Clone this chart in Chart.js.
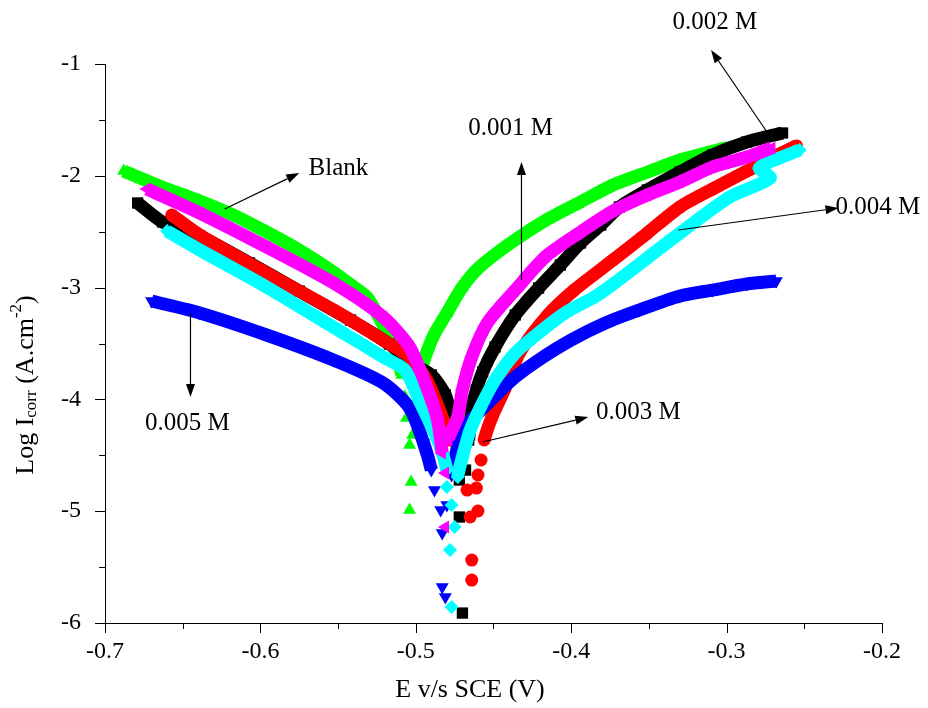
<!DOCTYPE html>
<html><head><meta charset="utf-8">
<script src="https://cdn.jsdelivr.net/npm/chart.js@4.4.0/dist/chart.umd.min.js"></script>
<style>html,body{margin:0;padding:0;background:#fff;}#wrap{width:928px;height:708px;}</style>
</head><body><div id="wrap"><canvas id="c" width="928" height="708"></canvas></div>
<script>
// ---- axis ticks ----
const xMajorTicks = [-0.7, -0.6, -0.5, -0.4, -0.3, -0.2];
const xTickLabels = ['-0.7', '-0.6', '-0.5', '-0.4', '-0.3', '-0.2'];
const xMinorTicks = [-0.65, -0.55, -0.45, -0.35, -0.25];
const yMajorTicks = [-6, -5, -4, -3, -2, -1];
const yTickLabels = ['-6', '-5', '-4', '-3', '-2', '-1'];
const yMinorTicks = [-5.5, -4.5, -3.5, -2.5, -1.5];

// ---- series (E in V vs SCE, log I) ----
const blankE = [-0.688,-0.665,-0.639,-0.616,-0.596,-0.575,-0.553,-0.539,-0.531,-0.521,-0.513,-0.509,-0.507,-0.506,-0.504,-0.503,-0.504,-0.502,-0.499,-0.496,-0.494,-0.489,-0.480,-0.470,-0.459,-0.439,-0.416,-0.394,-0.373,-0.349,-0.330,-0.301];
const blankLogI = [-1.957,-2.091,-2.225,-2.360,-2.503,-2.664,-2.861,-3.004,-3.093,-3.335,-3.558,-3.782,-3.979,-4.167,-4.408,-4.739,-4.989,-4.319,-3.916,-3.710,-3.621,-3.442,-3.227,-2.995,-2.816,-2.601,-2.395,-2.234,-2.082,-1.957,-1.859,-1.751];

const m001E = [-0.673,-0.639,-0.596,-0.553,-0.521,-0.504,-0.493,-0.486,-0.483,-0.481,-0.481,-0.479,-0.473,-0.470,-0.464,-0.454,-0.436,-0.416,-0.394,-0.373,-0.351,-0.330,-0.309,-0.287,-0.271];
const m001LogI = [-2.118,-2.333,-2.637,-2.959,-3.263,-3.531,-3.889,-4.184,-4.480,-4.659,-5.142,-4.363,-4.158,-3.916,-3.621,-3.317,-3.022,-2.717,-2.503,-2.315,-2.172,-2.056,-1.921,-1.832,-1.751];

const m002E = [-0.679,-0.663,-0.639,-0.607,-0.575,-0.542,-0.517,-0.501,-0.490,-0.481,-0.477,-0.473,-0.472,-0.472,-0.470,-0.468,-0.466,-0.464,-0.461,-0.457,-0.449,-0.436,-0.421,-0.407,-0.394,-0.381,-0.369,-0.351,-0.330,-0.309,-0.287,-0.264];
const m002LogI = [-2.243,-2.413,-2.539,-2.780,-3.031,-3.290,-3.505,-3.692,-3.782,-3.961,-4.184,-4.453,-4.721,-5.052,-5.911,-4.632,-4.363,-4.095,-3.916,-3.755,-3.531,-3.245,-3.004,-2.798,-2.601,-2.440,-2.279,-2.127,-1.966,-1.814,-1.698,-1.617];

const m003E = [-0.657,-0.639,-0.596,-0.553,-0.521,-0.504,-0.493,-0.484,-0.478,-0.472,-0.467,-0.465,-0.464,-0.464,-0.460,-0.461,-0.460,-0.458,-0.456,-0.451,-0.443,-0.433,-0.415,-0.398,-0.373,-0.351,-0.330,-0.309,-0.287,-0.266,-0.255];
const m003LogI = [-2.351,-2.530,-2.870,-3.200,-3.469,-3.621,-3.827,-4.122,-4.363,-4.614,-4.811,-5.052,-5.437,-5.616,-4.998,-4.793,-4.676,-4.542,-4.363,-4.158,-3.916,-3.576,-3.245,-3.022,-2.753,-2.512,-2.279,-2.118,-1.957,-1.805,-1.733];

const m004E = [-0.660,-0.639,-0.596,-0.553,-0.521,-0.507,-0.497,-0.486,-0.480,-0.480,-0.477,-0.475,-0.478,-0.477,-0.473,-0.470,-0.465,-0.457,-0.449,-0.436,-0.421,-0.404,-0.385,-0.373,-0.351,-0.330,-0.298,-0.272,-0.279,-0.266,-0.253];
const m004LogI = [-2.494,-2.664,-2.995,-3.353,-3.621,-3.737,-4.032,-4.363,-4.632,-4.784,-4.945,-5.142,-5.347,-5.857,-4.694,-4.515,-4.274,-4.032,-3.827,-3.585,-3.406,-3.227,-3.084,-2.968,-2.735,-2.512,-2.190,-2.020,-1.930,-1.841,-1.769];

const m005E = [-0.670,-0.639,-0.596,-0.553,-0.521,-0.504,-0.495,-0.490,-0.488,-0.484,-0.483,-0.483,-0.481,-0.480,-0.477,-0.473,-0.467,-0.456,-0.447,-0.436,-0.421,-0.400,-0.378,-0.356,-0.330,-0.309,-0.287,-0.268];
const m005LogI = [-3.120,-3.227,-3.424,-3.648,-3.854,-4.077,-4.390,-4.632,-4.811,-4.989,-5.195,-5.678,-5.768,-4.945,-4.676,-4.426,-4.229,-4.068,-3.943,-3.800,-3.648,-3.469,-3.317,-3.200,-3.075,-3.022,-2.968,-2.941];

// below this log I the markers are sparse (no continuous band)
const sparseBelow = { blank: -3.95, m001: -4.5, m002: -4.5, m003: -4.5, m004: -4.75, m005: -4.7 };

// ---- annotations (label text, label anchor, arrow tail -> head), data units ----
const notes = [
  { text: 'Blank',   lx: -0.569, ly: -1.930, align: 'left',   tail: [-0.623, -2.297], head: [-0.575, -1.975] },
  { text: '0.001 M', lx: -0.439, ly: -1.572, align: 'center', tail: [-0.432, -2.932], head: [-0.432, -1.877] },
  { text: '0.002 M', lx: -0.3075, ly: -0.624, align: 'center', tail: [-0.274, -1.608], head: [-0.310, -0.875] },
  { text: '0.003 M', lx: -0.384, ly: -4.113, align: 'left',   tail: [-0.457, -4.381], head: [-0.389, -4.158] },
  { text: '0.004 M', lx: -0.230, ly: -2.279, align: 'left',   tail: [-0.331, -2.485], head: [-0.228, -2.288] },
  { text: '0.005 M', lx: -0.647, ly: -4.211, align: 'center', tail: [-0.645, -3.227], head: [-0.645, -3.979] }
];

const SERIF = "'Liberation Serif', 'Times New Roman', serif";
const pairs = (xs, ys) => xs.map((v, i) => ({ x: v, y: ys[i] }));

function series(label, xs, ys, color, style, radius, rotation, sparse, order) {
  return {
    label, data: pairs(xs, ys), order,
    showLine: true, borderColor: color, borderWidth: 13, tension: 0.25,
    borderJoinStyle: 'round', borderCapStyle: 'butt',
    pointStyle: style, pointRadius: radius, pointRotation: rotation,
    pointBackgroundColor: color, pointBorderColor: color, pointBorderWidth: 0,
    pointHoverRadius: radius,
    segment: {
      borderColor: c => (c.p0.parsed.y < sparse || c.p1.parsed.y < sparse) ? 'rgba(0,0,0,0)' : color
    }
  };
}

const decor = {
  id: 'decor',
  afterDraw(chart) {
    const { ctx, chartArea: a, scales: { x, y } } = chart;
    ctx.save();
    ctx.strokeStyle = '#000'; ctx.lineWidth = 1;
    ctx.beginPath();
    const MAJ = 10, MIN = 6;
    xMajorTicks.forEach(v => { const p = Math.round(x.getPixelForValue(v)) + 0.5; ctx.moveTo(p, a.bottom); ctx.lineTo(p, a.bottom + MAJ); });
    xMinorTicks.forEach(v => { const p = Math.round(x.getPixelForValue(v)) + 0.5; ctx.moveTo(p, a.bottom); ctx.lineTo(p, a.bottom + MIN); });
    yMajorTicks.forEach(v => { const p = Math.round(y.getPixelForValue(v)) + 0.5; ctx.moveTo(a.left, p); ctx.lineTo(a.left - MAJ, p); });
    yMinorTicks.forEach(v => { const p = Math.round(y.getPixelForValue(v)) + 0.5; ctx.moveTo(a.left, p); ctx.lineTo(a.left - MIN, p); });
    ctx.stroke();

    // annotations
    ctx.fillStyle = '#000'; ctx.lineWidth = 1.2;
    notes.forEach(n => {
      const x1 = x.getPixelForValue(n.tail[0]), y1 = y.getPixelForValue(n.tail[1]);
      const x2 = x.getPixelForValue(n.head[0]), y2 = y.getPixelForValue(n.head[1]);
      const ang = Math.atan2(y2 - y1, x2 - x1), L = 13, W = 4.5;
      const bx = x2 - L * Math.cos(ang), by = y2 - L * Math.sin(ang);
      ctx.beginPath(); ctx.moveTo(x1, y1); ctx.lineTo(bx, by); ctx.stroke();
      ctx.beginPath();
      ctx.moveTo(x2, y2);
      ctx.lineTo(bx + W * Math.sin(ang), by - W * Math.cos(ang));
      ctx.lineTo(bx - W * Math.sin(ang), by + W * Math.cos(ang));
      ctx.closePath(); ctx.fill();
      ctx.font = '25px ' + SERIF; ctx.textAlign = n.align; ctx.textBaseline = 'middle';
      ctx.fillText(n.text, x.getPixelForValue(n.lx), y.getPixelForValue(n.ly));
    });

    // x title
    ctx.font = '26px ' + SERIF; ctx.textAlign = 'center'; ctx.textBaseline = 'middle';
    ctx.fillText('E v/s SCE (V)', 470, 690);

    // y title with sub/superscript
    ctx.translate(26, 385); ctx.rotate(-Math.PI / 2);
    const parts = [
      { t: 'Log I', f: '26px ', dy: 0 },
      { t: 'corr', f: '17px ', dy: 6 },
      { t: ' (A.cm', f: '26px ', dy: 0 },
      { t: '-2', f: '17px ', dy: -9 },
      { t: ')', f: '26px ', dy: 0 }
    ];
    let w = 0;
    parts.forEach(p => { ctx.font = p.f + SERIF; p.w = ctx.measureText(p.t).width; w += p.w; });
    let cx = -w / 2;
    ctx.textAlign = 'left'; ctx.textBaseline = 'middle';
    parts.forEach(p => { ctx.font = p.f + SERIF; ctx.fillText(p.t, cx, p.dy); cx += p.w; });
    ctx.restore();
  }
};

new Chart(document.getElementById('c'), {
  type: 'scatter',
  data: {
    datasets: [
      series('0.001 M', m001E, m001LogI, '#FF00FF', 'triangle', 7.5, -90, sparseBelow.m001, 0),
      series('0.004 M', m004E, m004LogI, '#00FFFF', 'rectRot', 7, 0, sparseBelow.m004, 1),
      series('0.005 M', m005E, m005LogI, '#0000FF', 'triangle', 7.5, 180, sparseBelow.m005, 2),
      series('0.003 M', m003E, m003LogI, '#FF0000', 'circle', 6.5, 0, sparseBelow.m003, 3),
      series('0.002 M', m002E, m002LogI, '#000000', 'rect', 8, 0, sparseBelow.m002, 4),
      series('Blank', blankE, blankLogI, '#00FF00', 'triangle', 7.5, 0, sparseBelow.blank, 5)
    ]
  },
  options: {
    responsive: false, animation: false, devicePixelRatio: 1,
    layout: { padding: { left: 0, top: 64, right: 46, bottom: 0 } },
    plugins: { legend: { display: false }, tooltip: { enabled: false } },
    scales: {
      x: {
        type: 'linear', min: -0.7, max: -0.2,
        afterBuildTicks: s => { s.ticks = xMajorTicks.map(v => ({ value: v })); },
        afterFit: s => { s.height = 85; },
        grid: { display: false },
        border: { display: true, color: '#000', width: 1 },
        ticks: { color: '#000', font: { family: SERIF, size: 24 }, padding: 6, maxRotation: 0,
                 callback: (v, i) => xTickLabels[i] }
      },
      y: {
        type: 'linear', min: -6, max: -1,
        afterBuildTicks: s => { s.ticks = yMajorTicks.map(v => ({ value: v })); },
        afterFit: s => { s.width = 105; },
        grid: { display: false },
        border: { display: true, color: '#000', width: 1 },
        ticks: { color: '#000', font: { family: SERIF, size: 24 }, padding: 16,
                 callback: (v, i) => yTickLabels[i] }
      }
    }
  },
  plugins: [decor]
});
</script></body></html>
